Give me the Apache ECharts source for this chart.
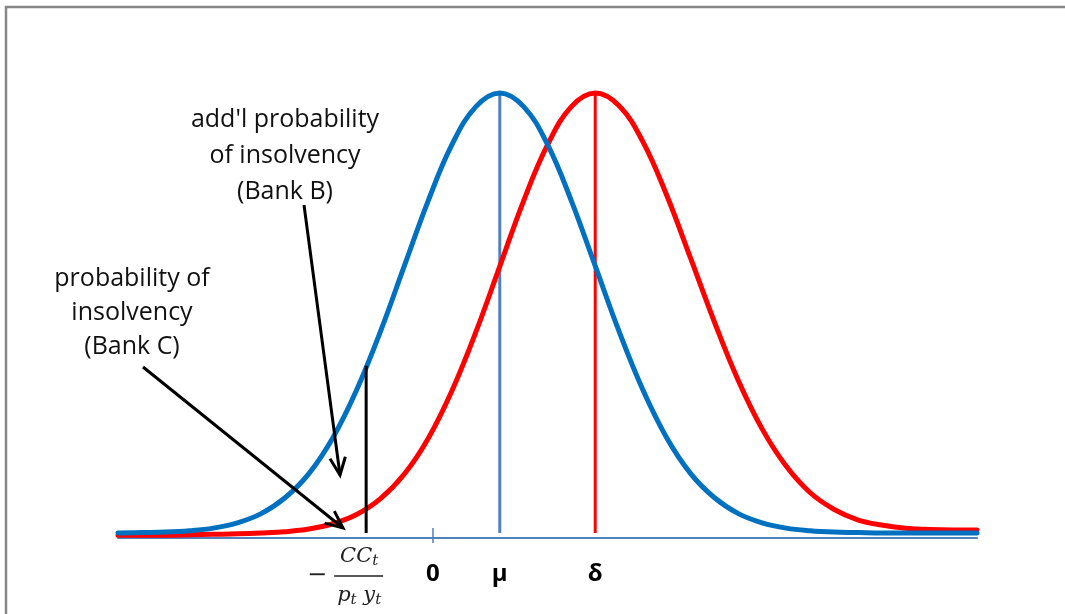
<!DOCTYPE html>
<html>
<head>
<meta charset="utf-8">
<script src="https://cdn.jsdelivr.net/npm/echarts@6/dist/echarts.min.js"></script>
<style>
html,body{margin:0;padding:0;background:#fff;}
#c{width:1065px;height:614px;}
</style>
</head>
<body>
<div id="c"></div>
<script>
// x positions (in units of the blue curve's standard deviation, 0 at the "0" tick)
const xs = [-3.3,-3.05,-2.8,-2.55,-2.3,-2.05,-1.8,-1.55,-1.3,-1.05,-0.8,-0.55,-0.3,-0.05,0.2,0.45,0.7,0.95,1.2,1.45,1.7,1.95,2.2,2.45,2.7,2.95,3.2,3.45,3.7,3.95,4.2,4.45,4.7,4.95,5.2,5.45,5.7];
// Bank B distribution (blue) (peak = 1)
const blueVals = [0.000,0.001,0.002,0.005,0.011,0.023,0.044,0.080,0.135,0.216,0.325,0.458,0.607,0.755,0.883,0.969,1.000,0.969,0.883,0.755,0.607,0.458,0.325,0.216,0.135,0.080,0.044,0.023,0.011,0.005,0.002,0.001,0.000,0.000,0.000,0.000,0.000];
// Bank C distribution (red)
const redVals = [-0.005,-0.005,-0.005,-0.004,-0.003,-0.002,0.000,0.003,0.009,0.021,0.042,0.078,0.134,0.215,0.324,0.457,0.606,0.755,0.882,0.969,1.000,0.971,0.889,0.767,0.624,0.479,0.346,0.236,0.152,0.092,0.054,0.030,0.018,0.011,0.008,0.007,0.007];
// markers
const mu = 0.7;
const delta = 1.7;
const threshold = -0.7;
const thresholdTop = 0.38;
const tickValues = [0, mu, delta];
const tickTexts = ['0', 'μ', 'δ'];
const annotB = ["add'l probability", "of insolvency", "(Bank B)"];
const annotC = ["probability of", "insolvency", "(Bank C)"];

const chart = echarts.init(document.getElementById('c'), null, {renderer:'canvas', width:1065, height:614});

const pair = (a, b) => a.map((v, i) => [v, b[i]]);

const option = {
  animation: false,
  backgroundColor: '#fff',
  grid: {left: 118, right: 88, top: 93, bottom: 76},
  xAxis: {
    type: 'value', min: -3.3, max: 5.7,
    axisLine: {show: true, onZero: false, lineStyle: {color: '#4F81BD', width: 2}},
    axisTick: {show: false}, axisLabel: {show: false}, splitLine: {show: false}
  },
  yAxis: {
    type: 'value', min: -0.0114, max: 1,
    show: false, splitLine: {show: false}
  },
  series: [
    {type: 'line', data: [[0, 0.0114], [0, -0.0227]], symbol: 'none', clip: false,
     lineStyle: {color: '#4F81BD', width: 1.5}, z: 2},
    {type: 'line', data: [[mu, 0], [mu, 1]], symbol: 'none',
     lineStyle: {color: '#4F81BD', width: 3}, z: 2},
    {type: 'line', data: [[delta, 0], [delta, 1]], symbol: 'none',
     lineStyle: {color: '#FF0000', width: 3}, z: 2},
    {type: 'line', data: pair(xs, redVals), symbol: 'none', smooth: 0.4, clip: false,
     lineStyle: {color: '#FF0000', width: 5, cap: 'round', join: 'round'}, z: 3},
    {type: 'line', data: pair(xs, blueVals), symbol: 'none', smooth: 0.4, clip: false,
     lineStyle: {color: '#0070C0', width: 5, cap: 'round', join: 'round'}, z: 4},
    {type: 'line', data: [[threshold, 0], [threshold, thresholdTop]], symbol: 'none',
     lineStyle: {color: '#000', width: 3}, z: 5}
  ]
};
chart.setOption(option);

function arrow(x1, y1, x2, y2) {
  const ang = Math.atan2(y2 - y1, x2 - x1);
  const L = 19, a = 0.42;
  const w1 = [x2 - L * Math.cos(ang - a), y2 - L * Math.sin(ang - a)];
  const w2 = [x2 - L * Math.cos(ang + a), y2 - L * Math.sin(ang + a)];
  return [
    {type: 'line', shape: {x1, y1, x2, y2}, style: {stroke: '#000', lineWidth: 3}, z: 20},
    {type: 'polyline', shape: {points: [w1, [x2, y2], w2]}, style: {stroke: '#000', lineWidth: 3, fill: null, lineJoin: 'miter'}, z: 20}
  ];
}

const px = v => chart.convertToPixel({gridIndex: 0}, [v, 0]);
const g = [];
// frame
g.push({type: 'polyline', shape: {points: [[6, 614], [6, 7], [1065, 7]]}, style: {stroke: '#878787', lineWidth: 2.5, fill: null}, z: 1});
// tick labels
tickValues.forEach((v, i) => {
  const p = px(v);
  g.push({type: 'text', x: p[0], y: 574, style: {text: tickTexts[i], fill: '#000', font: 'bold 24px "Open Sans"', align: 'center', verticalAlign: 'middle'}, z: 20});
});
// fraction label at threshold
const tp = px(threshold);
const fx = tp[0] - 4;
const rich = {i: {fontFamily: 'DejaVu Serif', fontStyle: 'italic', fontSize: 21, fill: '#222'},
              s: {fontFamily: 'DejaVu Serif', fontStyle: 'italic', fontSize: 15, fill: '#222', padding: [9, 0, 0, 0]}};
g.push({type: 'text', x: fx - 45, y: 576, style: {text: '−', fill: '#222', font: '24px "DejaVu Serif"', align: 'center', verticalAlign: 'middle'}, z: 20});
g.push({type: 'line', shape: {x1: fx - 28, y1: 576, x2: fx + 21, y2: 576}, style: {stroke: '#222', lineWidth: 1.5}, z: 20});
g.push({type: 'text', x: fx - 3, y: 557, style: {text: '{i|CC}{s|t}', align: 'center', verticalAlign: 'middle', rich}, z: 20});
g.push({type: 'text', x: fx - 3, y: 596, style: {text: '{i|p}{s|t}{i| y}{s|t}', align: 'center', verticalAlign: 'middle', rich}, z: 20});
// annotations
g.push({type: 'text', x: 285, y: 102, style: {text: annotB.join('\n'), fill: '#111', font: '25px "Open Sans"', lineHeight: 36, align: 'center', verticalAlign: 'top'}, z: 20});
g.push({type: 'text', x: 132, y: 262, style: {text: annotC.join('\n'), fill: '#111', font: '25px "Open Sans"', lineHeight: 34, align: 'center', verticalAlign: 'top'}, z: 20});
arrow(304, 205, 340, 475).forEach(e => g.push(e));
arrow(143, 367, 343, 528).forEach(e => g.push(e));

chart.setOption({graphic: g});
</script>
</body>
</html>
